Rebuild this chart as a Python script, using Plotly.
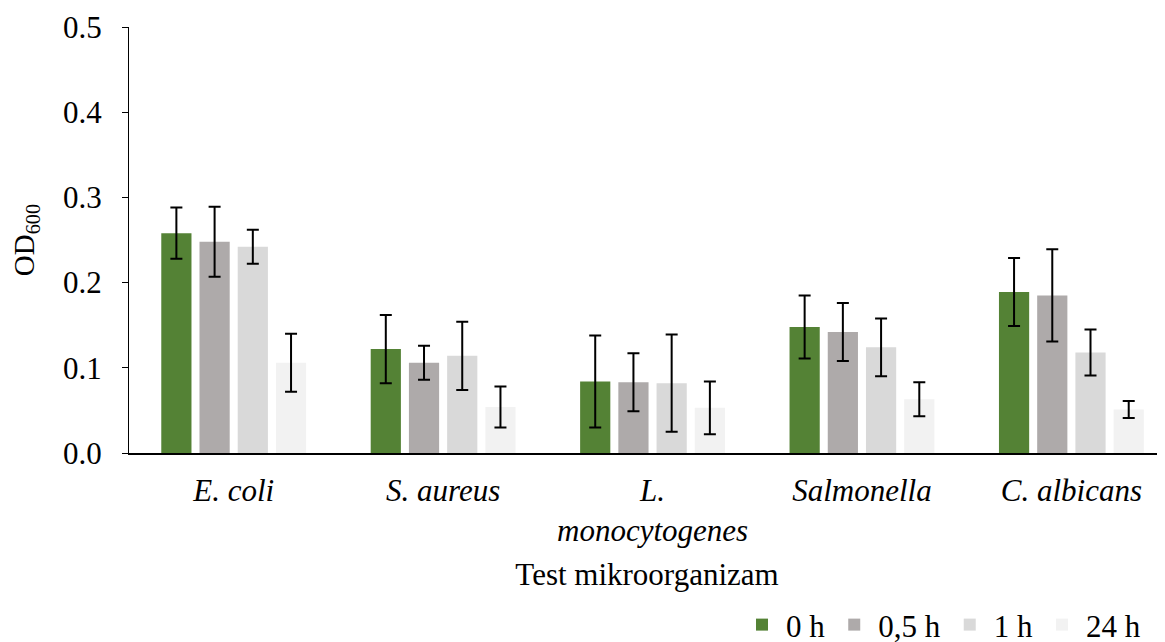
import plotly.graph_objects as go

categories = ["<i>E. coli</i>", "<i>S. aureus</i>", "<i>L.</i><br><i>monocytogenes</i>", "<i>Salmonella</i>", "<i>C. albicans</i>"]
series_names = ["0 h", "0,5 h", "1 h", "24 h"]
values = {
    "0 h":   [0.258, 0.122, 0.084, 0.148, 0.189],
    "0,5 h": [0.248, 0.106, 0.083, 0.142, 0.185],
    "1 h":   [0.242, 0.114, 0.082, 0.124, 0.118],
    "24 h":  [0.106, 0.054, 0.053, 0.063, 0.051],
}
errors = {
    "0 h":   [0.030, 0.040, 0.054, 0.037, 0.040],
    "0,5 h": [0.041, 0.020, 0.034, 0.034, 0.054],
    "1 h":   [0.020, 0.040, 0.057, 0.034, 0.027],
    "24 h":  [0.034, 0.024, 0.031, 0.020, 0.010],
}
colors = {"0 h": "#548235", "0,5 h": "#AEAAAA", "1 h": "#D9D9D9", "24 h": "#F2F2F2"}

font_family = "Liberation Serif"

fig = go.Figure()
for name in series_names:
    fig.add_trace(go.Bar(
        x=categories, y=values[name], name=name,
        marker=dict(color=colors[name], line=dict(width=0)),
        error_y=dict(type="data", array=errors[name], visible=True,
                     color="black", thickness=2, width=6),
    ))

fig.update_layout(
    width=1165, height=642,
    barmode="group", bargap=0.27, bargroupgap=0.21,
    plot_bgcolor="white", paper_bgcolor="white",
    margin=dict(l=121, r=8, t=19, b=197, autoexpand=False),
    font=dict(family=font_family, size=31, color="black"),
    legend=dict(orientation="h", xref="container", yref="container",
                x=0.6266, xanchor="left", y=0.039, yanchor="middle",
                font=dict(size=31), traceorder="normal", itemwidth=38,
                itemsizing="constant"),
    xaxis=dict(
        range=[-0.5, 4.447], showline=True, linecolor="black", linewidth=1.5,
        ticks="", tickfont=dict(size=31), ticklabelstandoff=9, automargin=False,
        title=dict(text="Test mikroorganizam", font=dict(size=31), standoff=16),
    ),
    yaxis=dict(
        range=[0, 0.5], dtick=0.1, tickformat=".1f", showgrid=False, zeroline=False,
        showline=True, linecolor="black", linewidth=1, ticks="outside", ticklen=6,
        tickcolor="black", tickfont=dict(size=31), ticklabelstandoff=14, automargin=False,
        title=dict(text="OD<sub>600</sub>", font=dict(size=29), standoff=21),
    ),
)

fig.write_html("out.html")
